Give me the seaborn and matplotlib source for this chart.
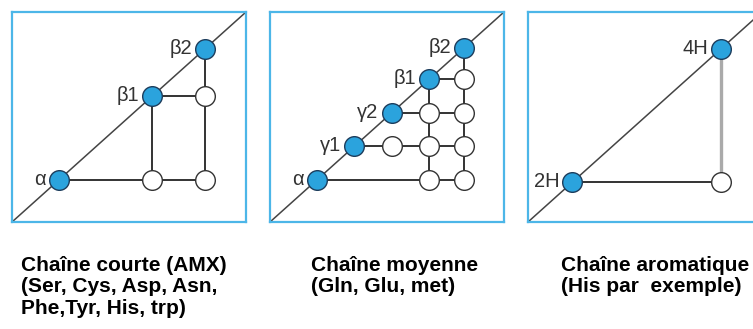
import numpy as np
import pandas as pd
import seaborn as sns
import matplotlib.pyplot as plt

# --- data: diagonal peaks (labels + positions) and cross peaks (column, row) ---
p1_labels = ["α", "β1", "β2"]
p1_pos = [0.20, 0.60, 0.825]
p1_cross = [("β1", "α"), ("β2", "α"), ("β2", "β1")]
p1_vcols = ["β1", "β2"]

p2_labels = ["α", "γ1", "γ2", "β1", "β2"]
p2_pos = [0.20, 0.36, 0.52, 0.68, 0.83]
p2_cross = [("γ2", "γ1"),
            ("β1", "α"), ("β1", "γ1"), ("β1", "γ2"),
            ("β2", "α"), ("β2", "γ1"), ("β2", "γ2"), ("β2", "β1")]
p2_vcols = ["β1", "β2"]

p3_labels = ["2H", "4H"]
p3_pos = [0.19, 0.825]
p3_cross = [("4H", "2H")]
p3_vcols = ["4H"]

captions = ["Chaîne courte (AMX)\n(Ser, Cys, Asp, Asn,\nPhe,Tyr, His, trp)",
            "Chaîne moyenne\n(Gln, Glu, met)",
            "Chaîne aromatique\n(His par  exemple)"]

BLUE = "#2ba3dd"
FRAME = "#4cb6e8"
DARK = "#333333"

sns.set_style("white")
plt.rcParams['font.family'] = ['Liberation Sans', 'DejaVu Sans']

fig = plt.figure(figsize=(7.53, 3.29), dpi=100)


def draw_panel(ax, labels, pos, cross, vcols, vcolor=DARK, vwidth=1.4):
    loc = dict(zip(labels, pos))
    ax.set_xlim(0, 1)
    ax.set_ylim(0, 1)
    ax.set_xticks([])
    ax.set_yticks([])
    for sp in ax.spines.values():
        sp.set_color(FRAME)
        sp.set_linewidth(1.6)
        sp.set_visible(True)

    # diagonal
    ax.plot([0, 1], [0, 1], color="#444444", lw=1.1, zorder=1)

    cdf = pd.DataFrame(cross, columns=["col", "row"])
    cdf["x"] = cdf["col"].map(loc)
    cdf["y"] = cdf["row"].map(loc)

    # horizontal lines: diagonal peak -> farthest cross peak of its row
    for row, g in cdf.groupby("row"):
        ax.plot([loc[row], g["x"].max()], [loc[row], loc[row]],
                color=DARK, lw=1.4, zorder=2)
    # vertical lines: diagonal peak -> lowest cross peak of its column
    for col in vcols:
        g = cdf[cdf["col"] == col]
        ax.plot([loc[col], loc[col]], [loc[col], g["y"].min()],
                color=vcolor, lw=vwidth, zorder=2)

    sns.scatterplot(x=cdf["x"], y=cdf["y"], ax=ax, s=200, color="white",
                    edgecolor=DARK, linewidth=1.0, zorder=3, legend=False)
    sns.scatterplot(x=pos, y=pos, ax=ax, s=200, color=BLUE,
                    edgecolor="#1d3d5c", linewidth=1.0, zorder=4, legend=False)

    for lab, p in zip(labels, pos):
        ax.annotate(lab, (p, p), xytext=(-9.5, 0.5), textcoords="offset points",
                    ha="right", va="center", fontsize=14.5, color=DARK)
    ax.set_xlabel("")
    ax.set_ylabel("")


W, H = 234 / 753, 210 / 329
bottom = (329 - 222) / 329
lefts = [12 / 753, 270 / 753, 528 / 753]

ax1 = fig.add_axes([lefts[0], bottom, W, H])
draw_panel(ax1, p1_labels, p1_pos, p1_cross, p1_vcols)
ax2 = fig.add_axes([lefts[1], bottom, W, H])
draw_panel(ax2, p2_labels, p2_pos, p2_cross, p2_vcols)
ax3 = fig.add_axes([lefts[2], bottom, W, H])
draw_panel(ax3, p3_labels, p3_pos, p3_cross, p3_vcols, vcolor="#aaaaaa", vwidth=2.4)

cap_x = [21 / 753, 311 / 753, 561 / 753]
for x, txt in zip(cap_x, captions):
    fig.text(x, 1 - 256 / 329, txt, ha="left", va="top", fontsize=15,
             fontweight="bold", color="black", linespacing=1.15)

fig.savefig("out.png", dpi=100)
